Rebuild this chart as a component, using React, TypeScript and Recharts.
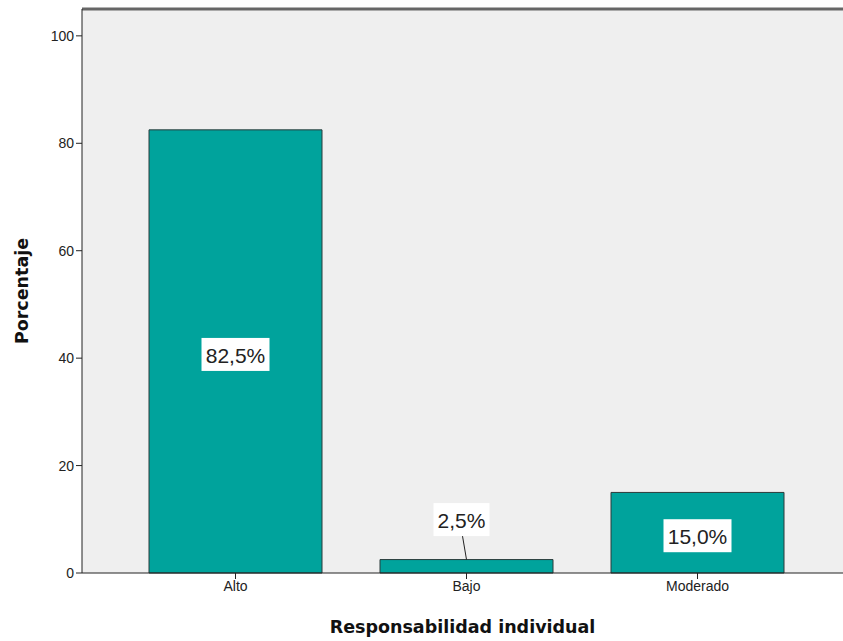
import React from 'react';
import { BarChart, Bar, XAxis, YAxis, CartesianGrid, LabelList, ReferenceLine } from 'recharts';

const categories = ['Alto', 'Bajo', 'Moderado'];
const percentages = [82.5, 2.5, 15.0];
const yTicks = [0, 20, 40, 60, 80, 100];

const data = categories.map((c, i) => ({ name: c, value: percentages[i] }));

const fmt = (v: number) => v.toFixed(1).replace('.', ',') + '%';

const BarLabel = (props: any) => {
  const { x, y, width, height, value } = props;
  const cx = x + width / 2;
  const boxW = 68;
  const boxH = 33;
  if (height < 40) {
    const cy = y - 40;
    const tx = cx - 5;
    const w = 56;
    return (
      <g>
        <line x1={cx - 4} y1={cy + boxH / 2} x2={cx} y2={y} stroke="#222" strokeWidth={1} />
        <rect x={tx - w / 2} y={cy - boxH / 2} width={w} height={boxH} fill="#fff" />
        <text x={tx} y={cy + 1} textAnchor="middle" dominantBaseline="central" fontSize={21} fontFamily="Arial, 'Liberation Sans', sans-serif" fill="#222">
          {fmt(value)}
        </text>
      </g>
    );
  }
  const cy = y + height / 2 + 3;
  return (
    <g>
      <rect x={cx - boxW / 2} y={cy - boxH / 2} width={boxW} height={boxH} fill="#fff" />
      <text x={cx} y={cy + 1} textAnchor="middle" dominantBaseline="central" fontSize={21} fontFamily="Arial, 'Liberation Sans', sans-serif" fill="#222">
        {fmt(value)}
      </text>
    </g>
  );
};

const YTitle = (props: any) => {
  const vb = props.viewBox || {};
  const cy = vb.y + vb.height / 2;
  return (
    <text x={22} y={cy} transform={`rotate(-90, 22, ${cy})`} textAnchor="middle" dominantBaseline="central"
      fontSize={17.5} fontWeight="bold" fontFamily="'DejaVu Sans', Verdana, sans-serif" fill="#111">
      Porcentaje
    </text>
  );
};

export default function App() {
  return (
    <div style={{ position: 'absolute', left: 0, top: 0, width: 843, height: 641, background: '#fff' }}>
      <BarChart width={843} height={641} data={data} margin={{ top: 9, right: 0, left: 0, bottom: 0 }}>
        <CartesianGrid fill="#efefef" horizontal={false} vertical={false} />
        <ReferenceLine y={105} stroke="#666" strokeWidth={3} ifOverflow="extendDomain" />
        <XAxis
          dataKey="name"
          height={68}
          padding={{ left: 38, right: 30 }}
          tickSize={6}
          tickLine={{ stroke: '#222' }}
          axisLine={{ stroke: '#222' }}
          tick={{ fontSize: 14, fill: '#222', fontFamily: "Arial, 'Liberation Sans', sans-serif" }}
          label={{ value: 'Responsabilidad individual', position: 'insideBottom', offset: 8, fontSize: 17.5, fontWeight: 'bold', fill: '#111', fontFamily: "'DejaVu Sans', Verdana, sans-serif" }}
        />
        <YAxis
          width={82}
          domain={[0, 105]}
          ticks={yTicks}
          tickSize={6}
          tickLine={{ stroke: '#222' }}
          axisLine={{ stroke: '#222' }}
          tick={{ fontSize: 14, fill: '#222', fontFamily: "Arial, 'Liberation Sans', sans-serif" }}
          label={<YTitle />}
        />
        <Bar dataKey="value" fill="#00a39c" stroke="#2b3b3a" strokeWidth={1} barSize={173} isAnimationActive={false}>
          <LabelList dataKey="value" content={<BarLabel />} />
        </Bar>
      </BarChart>
    </div>
  );
}
